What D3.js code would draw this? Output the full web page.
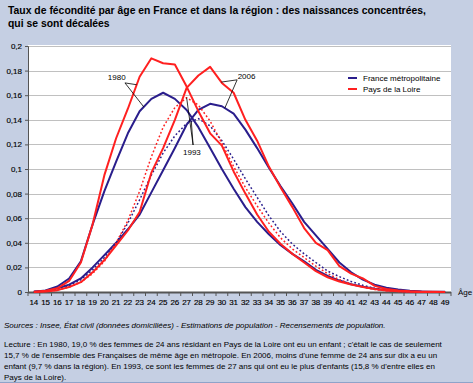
<!DOCTYPE html>
<html>
<head>
<meta charset="utf-8">
<script src="https://cdn.jsdelivr.net/npm/d3@7"></script>
<style>
  html, body { margin: 0; padding: 0; background: #c5cfe3; }
  svg { display: block; font-family: "Liberation Sans", Arial, sans-serif; }
</style>
</head>
<body>
<svg id="chart" width="473" height="383"></svg>
<script>
// ages (x categories)
const ages = [14,15,16,17,18,19,20,21,22,23,24,25,26,27,28,29,30,31,32,33,34,35,36,37,38,39,40,41,42,43,44,45,46,47,48,49];
const yTicks = [0, 0.02, 0.04, 0.06, 0.08, 0.1, 0.12, 0.14, 0.16, 0.18, 0.2];

// taux de fécondité par âge
const france1980 = [0.0003,0.0012,0.0045,0.011,0.025,0.055,0.082,0.106,0.129,0.147,0.157,0.162,0.157,0.148,0.134,0.117,0.100,0.084,0.069,0.057,0.047,0.038,0.031,0.025,0.018,0.013,0.0093,0.0063,0.0043,0.0027,0.0015,0.0008,0.0004,0.0002,0.0001,0.0001];
const pdl1980    = [0.0002,0.001,0.003,0.009,0.024,0.055,0.095,0.125,0.149,0.175,0.190,0.186,0.185,0.167,0.147,0.129,0.119,0.098,0.080,0.063,0.049,0.039,0.031,0.024,0.017,0.012,0.0085,0.006,0.004,0.0025,0.0013,0.0006,0.0003,0.0001,0.0001,0];
const france1993 = [0.0002,0.001,0.002,0.005,0.010,0.018,0.028,0.040,0.056,0.075,0.095,0.113,0.127,0.137,0.141,0.135,0.123,0.108,0.092,0.077,0.062,0.049,0.039,0.031,0.024,0.017,0.0125,0.0085,0.0055,0.003,0.0015,0.0007,0.0004,0.0002,0.0001,0.0001];
const pdl1993    = [0.0001,0.0005,0.0015,0.004,0.008,0.015,0.025,0.040,0.058,0.082,0.110,0.134,0.150,0.158,0.152,0.139,0.121,0.102,0.085,0.070,0.056,0.044,0.035,0.028,0.021,0.015,0.010,0.0065,0.004,0.002,0.001,0.0005,0.0002,0.0001,0.0001,0];
const france2006 = [0.0002,0.001,0.003,0.006,0.011,0.020,0.030,0.040,0.051,0.063,0.081,0.099,0.117,0.136,0.148,0.153,0.151,0.145,0.132,0.117,0.101,0.086,0.072,0.057,0.046,0.035,0.024,0.016,0.010,0.006,0.0035,0.002,0.001,0.0005,0.0003,0.0002];
const pdl2006    = [0.0001,0.0005,0.0015,0.004,0.008,0.016,0.026,0.038,0.050,0.065,0.097,0.117,0.140,0.166,0.176,0.183,0.170,0.162,0.140,0.123,0.102,0.085,0.069,0.052,0.040,0.034,0.021,0.015,0.011,0.005,0.0025,0.0012,0.0006,0.0003,0.0002,0.0001];

const blue = '#2a1e8c', red = '#ff2020';
const series = [
  {values: france1980, color: blue, dotted: false},
  {values: france1993, color: blue, dotted: true},
  {values: france2006, color: blue, dotted: false},
  {values: pdl1980, color: red, dotted: false},
  {values: pdl1993, color: red, dotted: true},
  {values: pdl2006, color: red, dotted: false}
];

// year labels: text at (age, value), pointers to points on the curves
const notes = [
  {text: '1980', at: [21.05, 0.175], from: [21.75, 0.170], to: [[pdl1980, 22.75], [france1980, 23.35]]},
  {text: '2006', at: [32.1, 0.1755], from: [31.3, 0.1725], to: [[pdl2006, 29.95], [france2006, 30.25]]},
  {text: '1993', at: [27.45, 0.1135], from: [27.55, 0.1195], to: [[pdl1993, 27.0], [france1993, 27.4]]}
];

const legendItems = [
  {label: 'France métropolitaine', color: blue},
  {label: 'Pays de la Loire', color: red}
];

const titleLines = ['Taux de fécondité par âge en France et dans la région : des naissances concentrées,', 'qui se sont décalées'];
const sourceText = 'Sources : Insee, État civil (données domiciliées) - Estimations de population - Recensements de population.';
const lectureLines = [
  "Lecture : En 1980, 19,0 % des femmes de 24 ans résidant en Pays de la Loire ont eu un enfant ; c'était le cas de seulement",
  "15,7 % de l'ensemble des Françaises de même âge en métropole. En 2006, moins d'une femme de 24 ans sur dix a eu un",
  "enfant (9,7 % dans la région). En 1993, ce sont les femmes de 27 ans qui ont eu le plus d'enfants (15,8 % d'entre elles en",
  "Pays de la Loire)."
];

const svg = d3.select('#chart');
const plot = {left: 28, right: 451, top: 46, bottom: 292};

const x = d3.scaleBand().domain(ages).range([plot.left, plot.right]).padding(0);
const xc = a => x(a) + x.bandwidth() / 2;
const xAge = a => plot.left + (a - ages[0] + 0.5) * x.bandwidth();
const y = d3.scaleLinear().domain([0, 0.2]).range([plot.bottom, plot.top]);
const fmt = v => String(+v.toFixed(2)).replace('.', ',');

// title
svg.append('g').selectAll('text').data(titleLines).join('text')
  .attr('x', 8).attr('y', (d, i) => 14 + i * 12.5)
  .attr('font-size', 10.4).attr('font-weight', 'bold').attr('fill', '#000')
  .text(d => d);

// plot background
svg.append('rect')
  .attr('x', plot.left).attr('y', plot.top - 1)
  .attr('width', plot.right - plot.left).attr('height', plot.bottom - plot.top + 1)
  .attr('fill', '#fff');

// gridlines
svg.append('g').selectAll('line').data(yTicks.slice(1)).join('line')
  .attr('x1', plot.left).attr('x2', plot.right)
  .attr('y1', d => Math.round(y(d)) + 0.5).attr('y2', d => Math.round(y(d)) + 0.5)
  .attr('stroke', '#c0c0c0').attr('stroke-width', 1);

// y axis
const yAxis = svg.append('g').attr('transform', `translate(${plot.left},0)`)
  .call(d3.axisLeft(y).tickValues(yTicks).tickFormat(fmt).tickSize(3).tickPadding(3));
yAxis.select('.domain').attr('stroke', '#555');
yAxis.selectAll('line').attr('stroke', '#555');
yAxis.selectAll('text').attr('font-size', 8).attr('font-family', 'Liberation Sans, Arial, sans-serif')
  .attr('fill', '#000').attr('stroke', '#000').attr('stroke-width', 0.15);

// x axis (ticks between categories)
const xAxis = svg.append('g').attr('transform', `translate(0,${plot.bottom})`);
xAxis.append('line').attr('x1', plot.left).attr('x2', plot.right).attr('y1', 0.5).attr('y2', 0.5)
  .attr('stroke', '#555').attr('stroke-width', 2);
xAxis.selectAll('line.tk').data(ages.concat([null])).join('line').attr('class', 'tk')
  .attr('x1', (d, i) => plot.left + i * x.bandwidth()).attr('x2', (d, i) => plot.left + i * x.bandwidth())
  .attr('y1', 0).attr('y2', 4).attr('stroke', '#555');
xAxis.selectAll('text').data(ages).join('text')
  .attr('x', d => xc(d)).attr('y', 13).attr('text-anchor', 'middle')
  .attr('font-size', 8).attr('fill', '#000').attr('stroke', '#000').attr('stroke-width', 0.15).text(d => d);
svg.append('text').attr('x', 458).attr('y', 295).attr('font-size', 8).attr('fill', '#000').text('Âge');

// curves
const line = d3.line().x((d, i) => xc(ages[i])).y(d => y(d));
svg.append('g').selectAll('path').data(series).join('path')
  .attr('d', d => line(d.values))
  .attr('fill', 'none')
  .attr('stroke', d => d.color)
  .attr('stroke-width', d => d.dotted ? 1.5 : 2)
  .attr('stroke-dasharray', d => d.dotted ? '1.8,2.2' : null)
  .attr('stroke-linejoin', 'round');

// annotations
const valueAt = (vals, a) => {
  const i = Math.floor(a - ages[0]), t = a - ages[0] - i;
  return vals[i] + (vals[i + 1] - vals[i]) * t;
};
const ann = svg.append('g');
notes.forEach(n => {
  n.to.forEach(([vals, a]) => {
    ann.append('line')
      .attr('x1', xAge(n.from[0])).attr('y1', y(n.from[1]))
      .attr('x2', xAge(a)).attr('y2', y(valueAt(vals, a)))
      .attr('stroke', '#000').attr('stroke-width', 0.8);
  });
  ann.append('text').attr('x', xAge(n.at[0])).attr('y', y(n.at[1]) + 3)
    .attr('text-anchor', 'middle').attr('font-size', 8).attr('fill', '#000').text(n.text);
});

// legend
const lg = svg.append('g').selectAll('g').data(legendItems).join('g')
  .attr('transform', (d, i) => `translate(348,${78 + i * 11})`);
lg.append('line').attr('x1', 0).attr('x2', 9).attr('stroke', d => d.color).attr('stroke-width', 2);
lg.append('text').attr('x', 15).attr('y', 3).attr('font-size', 8).attr('fill', '#000').text(d => d.label);

// footnotes
svg.append('text').attr('x', 4).attr('y', 328).attr('font-size', 8).attr('font-style', 'italic')
  .attr('fill', '#000').text(sourceText);
svg.append('g').selectAll('text').data(lectureLines).join('text')
  .attr('x', 4).attr('y', (d, i) => 347 + i * 11)
  .attr('font-size', 8).attr('fill', '#000').text(d => d);

svg.append('line').attr('x1', 0).attr('x2', 473).attr('y1', 382.5).attr('y2', 382.5)
  .attr('stroke', '#8fa3c9');
</script>
</body>
</html>
